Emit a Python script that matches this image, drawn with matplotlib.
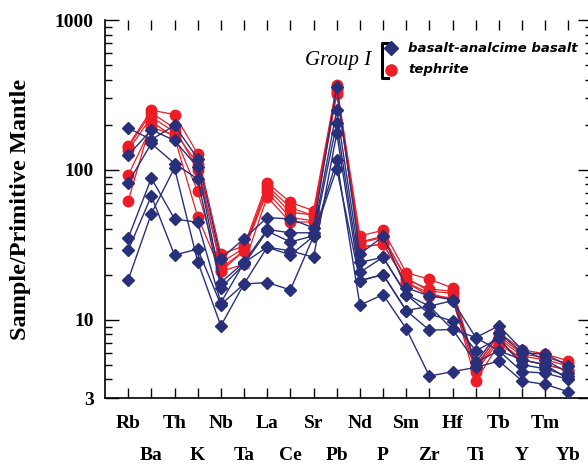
import matplotlib
matplotlib.use("Agg")
import matplotlib.pyplot as plt
from matplotlib.lines import Line2D
from matplotlib.ticker import LogLocator, NullFormatter, FixedLocator

# elements, primitive-mantle normalised
elements = ["Rb", "Ba", "Th", "K", "Nb", "Ta", "La", "Ce", "Sr", "Pb",
            "Nd", "P", "Sm", "Zr", "Hf", "Ti", "Tb", "Y", "Tm", "Yb"]

# basalt-analcime basalt samples
basalt = [
    [190, 159, 198, 119, 25.5, 34.7, 48, 47, 41, 358, 27.4, 35.9, 16.3, 14.4, 13.6, 5.2, 8.2, 6.0, 5.9, 4.9],
    [125, 185, 157, 104, 17.7, 24.1, 40, 38, 38, 250, 24.1, 26.1, 14.7, 12.3, 13.4, 7.6, 9.1, 6.3, 5.4, 4.4],
    [82, 150, 110, 87, 16.3, 23.4, 39, 33, 36.3, 204, 20.7, 26.1, 14.7, 10.9, 9.8, 6.2, 7.5, 5.0, 4.7, 4.2],
    [35, 88, 47, 44.6, 13, 24, 30.5, 28.8, 26.1, 175, 18.2, 20, 11.5, 12.3, 8.6, 5.2, 6.2, 5.4, 5.0, 4.0],
    [29, 67, 27, 29.6, 12.6, 17.3, 17.7, 15.8, 36, 116, 12.5, 14.7, 8.7, 4.2, 4.5, 4.8, 5.3, 3.9, 3.7, 3.3],
    [18.4, 51, 103, 24.4, 9.1, 17.3, 30.5, 27, 36, 102, 18.2, 20, 11.5, 8.5, 8.6, 7.6, 6.2, 4.5, 4.4, 4.0],
]

# tephrite samples
tephrite = [
    [145, 250, 234, 128, 27.4, 31, 82, 60.6, 53.4, 367, 36.3, 39.4, 20.6, 18.6, 16.3, 4.7, 8.2, 6.3, 5.9, 5.3],
    [135, 225, 179, 110, 22, 28.8, 78, 56, 49.4, 340, 32.6, 35.3, 19, 15.5, 15, 4.7, 7.5, 5.7, 5.4, 4.9],
    [92, 193, 170, 72, 21, 28.8, 71, 48, 45.8, 330, 30.5, 31.9, 17.7, 14.4, 14, 3.9, 6.9, 5.4, 5.0, 4.6],
    [62, 210, 165, 48.6, 21, 23.4, 66, 44.6, 45, 320, 30.5, 31.9, 17.7, 15, 13.6, 4.5, 7.2, 5.4, 5.0, 4.6],
    [142, 240, 190, 100, 24, 30, 75, 52, 50, 350, 33, 36, 18.5, 16, 15.5, 5.0, 7.8, 5.9, 5.6, 5.1],
]

ytick_vals = [3, 10, 100, 1000]
ytick_labels = ["3", "10", "100", "1000"]

BLUE = "#28307c"
RED = "#ee1c25"
W, H = 588, 465

fig = plt.figure(figsize=(W / 100, H / 100), dpi=100)
ax = fig.add_axes([105 / W, 67 / H, 486.6 / W, 378 / H])

x = list(range(len(elements)))
for s in basalt:
    ax.plot(x, s, color=BLUE, lw=1.0, marker="D", ms=6.5, mfc=BLUE, mec=BLUE, zorder=3)
for s in tephrite:
    ax.plot(x, s, color=RED, lw=0.9, marker="o", ms=7.5, mfc=RED, mec=RED, zorder=2)

ax.set_yscale("log")
ax.set_ylim(3, 1000)
ax.set_xlim(-1, len(elements))

ax.yaxis.set_major_locator(FixedLocator(ytick_vals))
ax.set_yticklabels(ytick_labels)
ax.yaxis.set_minor_locator(LogLocator(base=10, subs=range(2, 10)))
ax.yaxis.set_minor_formatter(NullFormatter())

# alternating two-row element labels
ax.set_xticks(x[0::2])
ax.set_xticklabels(elements[0::2])
ax.set_xticks(x[1::2], minor=True)
ax.set_xticklabels(elements[1::2], minor=True)

for lab in ax.get_xticklabels() + ax.get_xticklabels(minor=True) + ax.get_yticklabels():
    lab.set_fontfamily("Liberation Serif")
    lab.set_fontweight("bold")
    lab.set_fontsize(14)

ax.tick_params(axis="x", which="major", direction="in", length=7, width=1,
               top=True, pad=12)
ax.tick_params(axis="x", which="minor", direction="in", length=7, width=1,
               top=True, pad=35)
ax.tick_params(axis="y", which="major", direction="in", length=10, width=1,
               right=True, pad=8)
ax.tick_params(axis="y", which="minor", direction="in", length=5, width=1,
               right=True)
ax.spines["top"].set_visible(False)
ax.spines["left"].set_linewidth(1.2)
ax.spines["bottom"].set_linewidth(1.2)

ax.set_ylabel("Sample/Primitive Mantle", fontfamily="Liberation Serif",
              fontweight="bold", fontsize=17.5)
ax.yaxis.set_label_coords(-0.152, 0.5)

# legend block
def fx(px):
    return px / W

def fy(py):
    return 1 - py / H

fig.text(fx(305), fy(60), "Group I", family="Liberation Serif", style="italic",
         size=15, va="center", ha="left")
fig.add_artist(Line2D([fx(388), fx(382), fx(382), fx(388)],
                      [fy(43), fy(43), fy(78), fy(78)], color="black", lw=2.2))
fig.add_artist(Line2D([fx(391)], [fy(48)], marker="D", ms=7, color=BLUE, ls=""))
fig.add_artist(Line2D([fx(391)], [fy(70)], marker="o", ms=8, color=RED, ls=""))
fig.text(fx(408), fy(48), "basalt-analcime basalt", family="DejaVu Sans",
         weight="bold", style="italic", size=9.5, va="center", ha="left")
fig.text(fx(408), fy(70), "tephrite", family="DejaVu Sans",
         weight="bold", style="italic", size=9.5, va="center", ha="left")

fig.savefig("out.png", dpi=100)
